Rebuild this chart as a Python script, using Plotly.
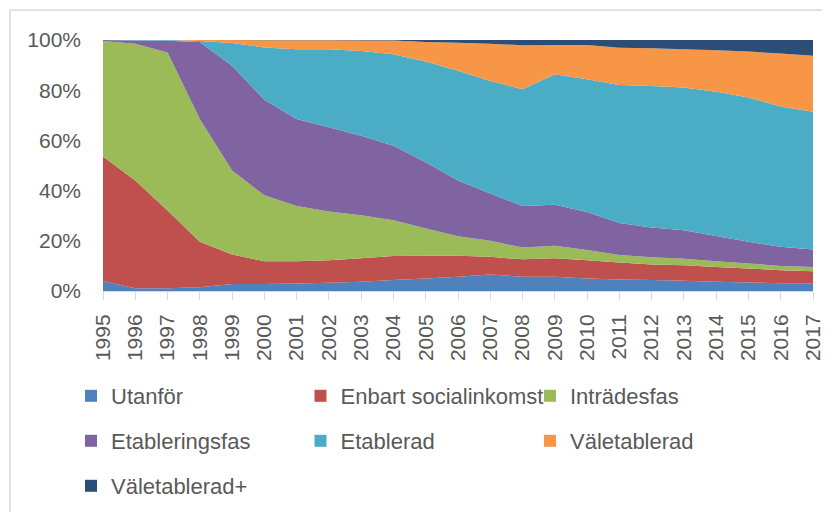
import plotly.graph_objects as go

years = list(range(1995, 2018))

series_names = ["Utanför", "Enbart socialinkomst", "Inträdesfas",
                "Etableringsfas", "Etablerad", "Väletablerad", "Väletablerad+"]

utanfor = [4.0, 1.1, 1.1, 1.5, 2.8, 2.8, 3.0, 3.3, 3.7, 4.4, 5.0, 5.7, 6.6, 5.7, 5.7, 5.0, 4.6, 4.4, 4.1, 3.7, 3.4, 3.1, 3.1]
enbart = [49.6, 42.9, 31.0, 18.1, 11.7, 9.1, 8.9, 9.0, 9.3, 9.5, 9.0, 8.3, 7.0, 6.9, 7.3, 7.3, 6.8, 6.2, 6.2, 5.9, 5.6, 5.2, 4.8]
intradesfas = [46.0, 54.5, 62.9, 48.9, 33.5, 26.2, 22.0, 19.4, 17.2, 14.3, 10.9, 7.8, 6.4, 4.7, 5.0, 4.0, 2.9, 2.8, 2.5, 2.3, 2.0, 1.7, 1.7]
etableringsfas = [0.4, 1.3, 4.7, 30.7, 41.7, 38.1, 34.6, 33.5, 31.7, 29.7, 26.4, 22.2, 18.8, 16.6, 16.4, 15.2, 12.8, 11.9, 11.4, 10.0, 8.6, 7.6, 6.9]
etablerad = [0.0, 0.2, 0.3, 0.4, 9.1, 20.8, 27.8, 31.1, 33.7, 36.4, 40.1, 43.7, 44.9, 46.5, 52.0, 52.9, 55.0, 56.4, 56.9, 57.5, 57.5, 55.9, 54.9]
valetablerad = [0.0, 0.0, 0.0, 0.4, 1.2, 2.9, 3.6, 3.6, 4.2, 5.5, 7.8, 11.2, 14.8, 17.5, 11.6, 13.6, 14.8, 15.0, 15.2, 16.5, 18.3, 21.1, 22.3]
valetablerad_plus = [0.0, 0.0, 0.0, 0.0, 0.0, 0.1, 0.1, 0.1, 0.2, 0.2, 0.8, 1.1, 1.5, 2.1, 2.0, 2.0, 3.1, 3.3, 3.7, 4.1, 4.6, 5.4, 6.3]

y_tick_values = [0, 20, 40, 60, 80, 100]
y_tick_labels = ["0%", "20%", "40%", "60%", "80%", "100%"]

colors = ["#4F81BD", "#C0504D", "#9BBB59", "#8064A2", "#4BACC6", "#F79646", "#2C4D75"]
legend_rows = ["legend", "legend", "legend", "legend2", "legend2", "legend2", "legend3"]

all_series = [utanfor, enbart, intradesfas, etableringsfas, etablerad, valetablerad, valetablerad_plus]

FONT = "Liberation Sans, Arial, sans-serif"
TXT = "#595959"

fig = go.Figure()
for name, vals, col in zip(series_names, all_series, colors):
    fig.add_trace(go.Scatter(
        x=years, y=vals, name=name, stackgroup="one", groupnorm="percent",
        mode="none", fillcolor=col, line=dict(width=0), showlegend=False,
        hoverinfo="skip",
    ))

for name, col, lg in zip(series_names, colors, legend_rows):
    fig.add_trace(go.Bar(x=[None], y=[None], name=name, marker=dict(color=col, line=dict(width=0)),
                         legend=lg, showlegend=True, hoverinfo="skip"))

# page is offset by 8px body margin; positions below are in reference pixels
ph = 251.0
pw = 710.0
def py(pix):
    return (291 - pix) / ph

legend_common = dict(orientation="h", xanchor="left", yanchor="middle",
                     x=(71 - 103) / pw, entrywidth=184.5, entrywidthmode="pixels",
                     traceorder="normal",
                     font=dict(family=FONT, size=22, color=TXT),
                     bgcolor="rgba(0,0,0,0)", tracegroupgap=0)

fig.update_layout(
    width=822, height=504,
    margin=dict(l=95, r=17, t=32, b=221, autoexpand=False),
    paper_bgcolor="white", plot_bgcolor="white",
    font=dict(family=FONT, size=21, color=TXT),
    barmode="overlay",
    legend=dict(**legend_common, y=py(396)),
    legend2=dict(**legend_common, y=py(441)),
    legend3=dict(**legend_common, y=py(486)),
    xaxis=dict(
        range=[1995, 2017], tickmode="array", tickvals=years,
        ticktext=[str(y) for y in years], tickangle=-90, automargin=False,
        showgrid=False, zeroline=False, showline=True, linecolor="#D9D9D9", linewidth=1,
        ticks="outside", ticklen=8, tickcolor="#D9D9D9", tickwidth=1,
        tickfont=dict(family=FONT, size=21, color=TXT), ticklabelstandoff=6,
    ),
    yaxis=dict(
        range=[0, 100], tickmode="array", tickvals=y_tick_values, ticktext=y_tick_labels,
        showgrid=False, zeroline=False, showline=False, ticks="", automargin=False,
        tickfont=dict(family=FONT, size=21, color=TXT), ticklabelstandoff=21,
    ),
    shapes=[dict(type="rect", xref="paper", yref="paper",
                 x0=(10 - 103) / pw, x1=1.2, y0=py(10), y1=-1.5,
                 line=dict(color="#D9D9D9", width=1.5), fillcolor="rgba(0,0,0,0)", layer="below")],
)

fig.write_html("out.html")
